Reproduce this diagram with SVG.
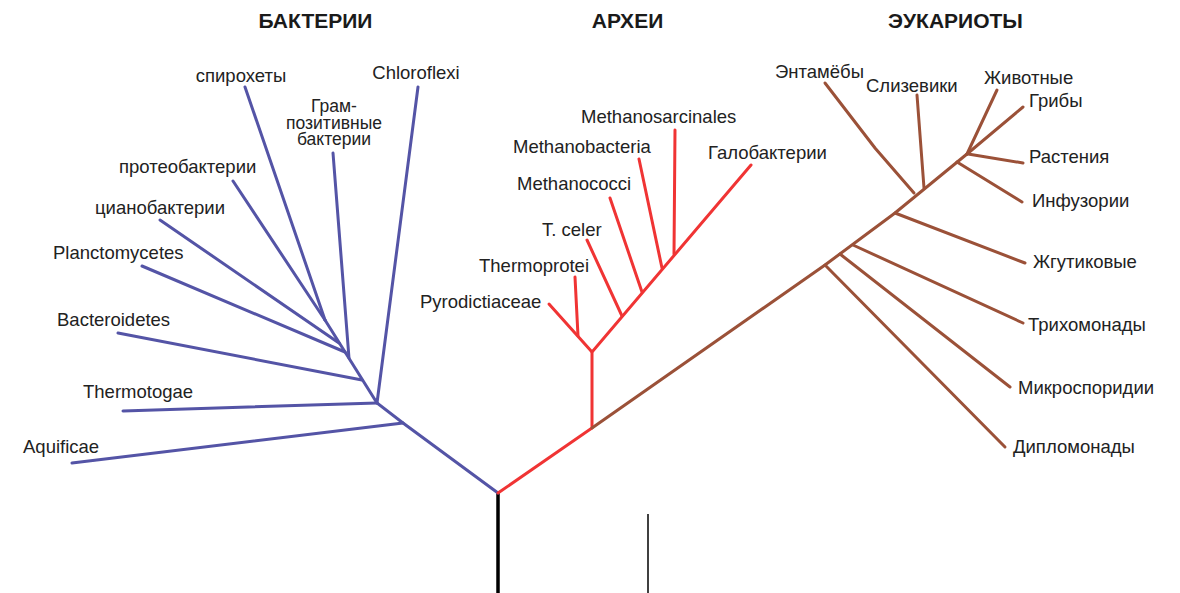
<svg xmlns="http://www.w3.org/2000/svg" width="1180" height="593" viewBox="0 0 1180 593">
<style>
text{font-family:"Liberation Sans",Arial,sans-serif;font-size:18.5px;fill:#222}
.h{font-weight:bold;font-size:21px;text-anchor:middle;fill:#1a1a1a}
.m{text-anchor:middle}
.g{font-size:17.5px}
.b{stroke:#5454a6;stroke-width:3;fill:none;stroke-linecap:round}
.r{stroke:#f03434;stroke-width:3;fill:none;stroke-linecap:round}
.n{stroke:#9b5138;stroke-width:3;fill:none;stroke-linecap:round}
.k{stroke:#000;fill:none}
</style>
<rect width="1180" height="593" fill="#fff"/>
<g id="connectors">
<line class="k" x1="498" y1="493" x2="498" y2="593" stroke-width="3.5"/>
<line class="k" x1="648" y1="514" x2="648" y2="593" stroke-width="1.5"/>
<!-- bacteria -->
<polyline class="b" points="498,493 403,423 377,403 325,320"/>
<line class="b" x1="403" y1="423" x2="72" y2="463"/>
<line class="b" x1="377" y1="403" x2="123" y2="411"/>
<line class="b" x1="377" y1="403" x2="418" y2="87"/>
<line class="b" x1="362" y1="380" x2="118" y2="333"/>
<line class="b" x1="349" y1="358" x2="333" y2="153"/>
<line class="b" x1="345" y1="352" x2="142" y2="266"/>
<line class="b" x1="339" y1="343" x2="160" y2="220"/>
<line class="b" x1="325" y1="320" x2="233" y2="181"/>
<line class="b" x1="325" y1="320" x2="245" y2="87"/>
<!-- archaea -->
<polyline class="r" points="498,493 592,428 592,352 751,165"/>
<line class="r" x1="592" y1="352" x2="549" y2="304"/>
<line class="r" x1="578" y1="336" x2="575" y2="277"/>
<line class="r" x1="622" y1="316" x2="587" y2="240"/>
<line class="r" x1="642" y1="292" x2="610" y2="198"/>
<line class="r" x1="662" y1="268" x2="639" y2="159"/>
<line class="r" x1="674" y1="254" x2="675" y2="130"/>
<!-- eukaryotes -->
<polyline class="n" points="592,428 825,265 895,213 967,154"/>
<polyline class="n" points="825,83 875,148 914,193"/>
<line class="n" x1="924" y1="188" x2="917" y2="95"/>
<line class="n" x1="967" y1="154" x2="997" y2="90"/>
<line class="n" x1="967" y1="154" x2="1023" y2="107"/>
<line class="n" x1="968" y1="154" x2="1023" y2="163"/>
<line class="n" x1="957" y1="162" x2="1022" y2="202"/>
<line class="n" x1="895" y1="213" x2="1025" y2="263"/>
<line class="n" x1="853" y1="245" x2="1023" y2="323"/>
<line class="n" x1="840" y1="254" x2="1010" y2="387"/>
<line class="n" x1="825" y1="265" x2="1005" y2="447"/>
</g>
<g id="headers">
<text class="h" x="315.5" y="28">БАКТЕРИИ</text>
<text class="h" x="627.5" y="28">АРХЕИ</text>
<text class="h" x="955.5" y="28">ЭУКАРИОТЫ</text>
</g>
<g id="bacteria">
<text id="n-spiro" class="m" x="241" y="82">спирохеты</text>
<text id="n-chloro" class="m" x="416" y="79">Chloroflexi</text>
<text id="n-gram" class="m g" x="334" y="112">Грам-<tspan x="334" y="128.5">позитивные</tspan><tspan x="334" y="145">бактерии</tspan></text>
<text id="n-proteo" x="119" y="173">протеобактерии</text>
<text id="n-cyano" x="95" y="214">цианобактерии</text>
<text id="n-planc" x="53" y="259">Planctomycetes</text>
<text id="n-bact" x="57" y="326">Bacteroidetes</text>
<text id="n-thermo" x="83" y="398">Thermotogae</text>
<text id="n-aqui" x="23" y="453">Aquificae</text>
</g>
<g id="archaea">
<text id="n-msarc" x="581" y="123">Methanosarcinales</text>
<text id="n-mbact" x="513" y="153">Methanobacteria</text>
<text id="n-halo" x="708" y="159">Галобактерии</text>
<text id="n-mcocc" x="517" y="190">Methanococci</text>
<text id="n-tceler" x="542" y="236">T. celer</text>
<text id="n-tprot" x="479" y="272">Thermoprotei</text>
<text id="n-pyro" x="420" y="308">Pyrodictiaceae</text>
</g>
<g id="eukaryotes">
<text id="n-ent" x="775" y="78">Энтамёбы</text>
<text id="n-sliz" x="866" y="92">Слизевики</text>
<text id="n-anim" x="984" y="84">Животные</text>
<text id="n-fung" x="1029" y="107">Грибы</text>
<text id="n-plant" x="1029" y="163">Растения</text>
<text id="n-inf" x="1032" y="207">Инфузории</text>
<text id="n-flag" x="1033" y="268">Жгутиковые</text>
<text id="n-trich" x="1028" y="331">Трихомонады</text>
<text id="n-micro" x="1018" y="394">Микроспоридии</text>
<text id="n-dipl" x="1013" y="453">Дипломонады</text>
</g>
</svg>
